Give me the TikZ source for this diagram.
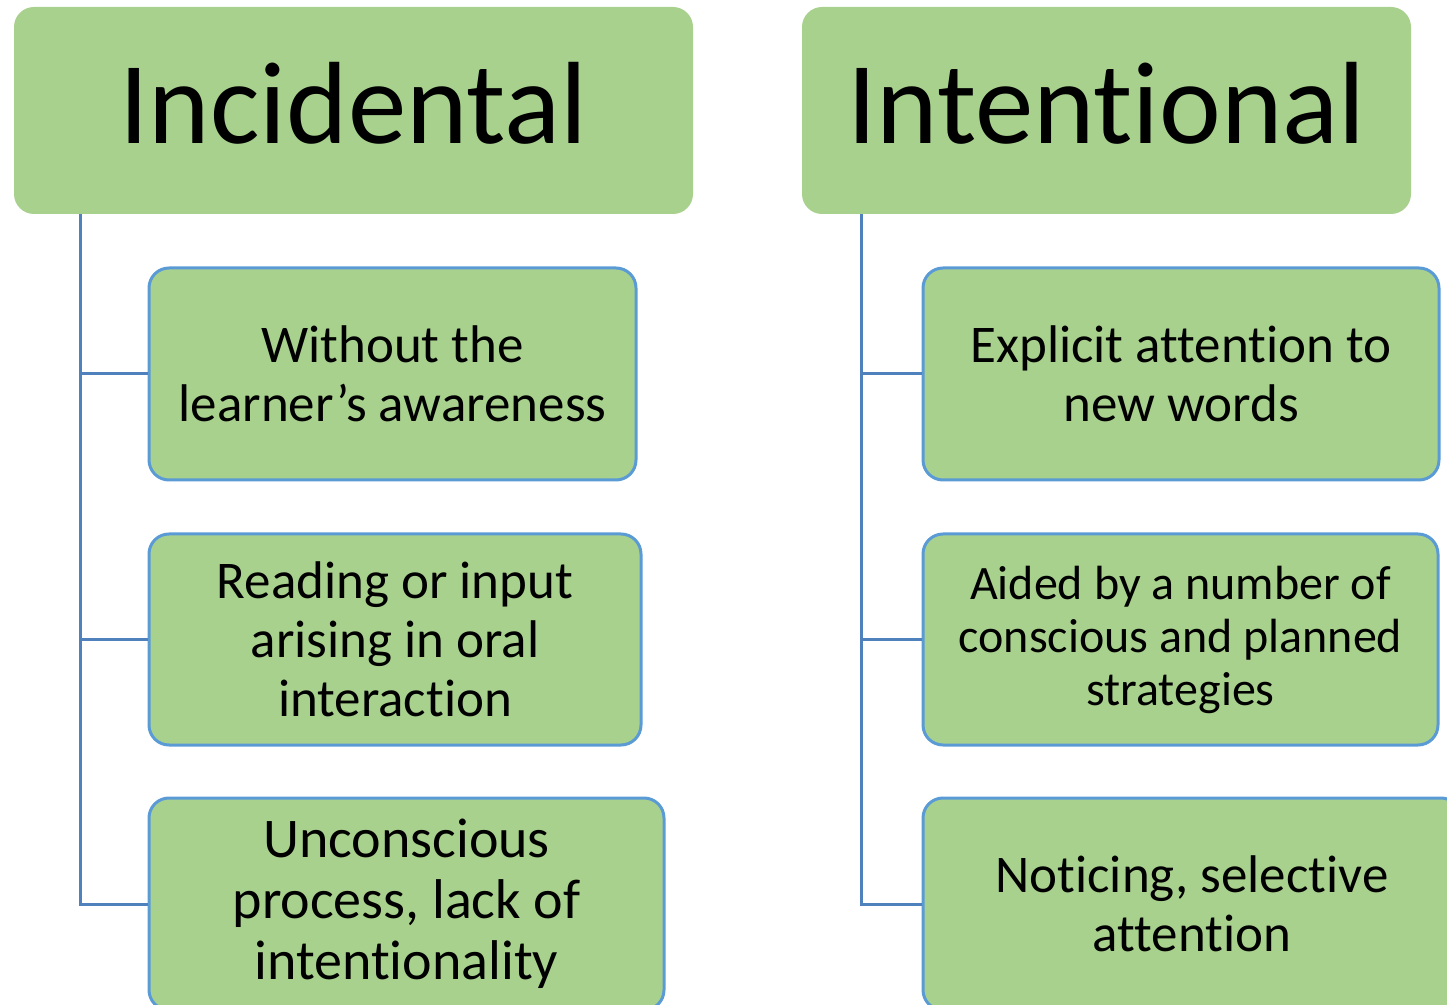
\documentclass[tikz,border=0pt]{standalone}
\usepackage{fontspec}
\setmainfont{Carlito}[Ligatures=NoCommon]
\usetikzlibrary{positioning}
\definecolor{leafgreen}{HTML}{A9D18E}
\definecolor{rimblue}{HTML}{5B9BD5}
\definecolor{linkblue}{HTML}{4F81BD}
\newcommand{\headlift}[1]{\raisebox{3.5pt}[\height][\depth]{#1}}
\tikzset{
  head/.style={fill=leafgreen, rounded corners=10pt, inner sep=0pt, font=\fontsize{58.5}{64}\selectfont},
  kid/.style={draw=rimblue, fill=leafgreen, line width=1.5pt, rounded corners=10pt, align=center, inner sep=0pt, minimum height=106pt, font=\fontsize{26.5}{29.5}\selectfont},
  link/.style={draw=linkblue, line width=1.5pt}
}
\begin{document}
\begin{tikzpicture}[x=0.5pt,y=-0.5pt]
	\useasboundingbox (0,0) rectangle (1447,1005);
	\clip (0,0) rectangle (1447,1005);
	% the two headings
	\node[head, minimum width=339.5pt, minimum height=103.5pt] (incid) at (353.5,110.5) {\headlift{Incidental}};
	\node[head, minimum width=304.5pt, minimum height=103.5pt] (inten) at (1106.5,110.5) {\headlift{Intentional}};
	\coordinate (trunkL) at ([xshift=33.5pt]incid.south west);
	\coordinate (trunkR) at ([xshift=30pt]inten.south west);
	% left column
	\node[kid, minimum width=243.5pt] (aware) at (392.5,374) {Without the\\learner’s awareness};
	\node[kid, minimum width=246pt, minimum height=105.5pt] (oral) at (395,639.5) {Reading or input\\arising in oral\\interaction};
	\node[kid, minimum width=257.5pt, font=\fontsize{28}{30.5}\selectfont] (uncon) at (406.5,904) {Unconscious\\process, lack of\\intentionality};
	% right column
	\node[kid, minimum width=258pt] (explicit) at (1181,374) {Explicit attention to\\new words};
	\node[kid, minimum width=257.5pt, minimum height=105.5pt, font=\fontsize{24}{26.5}\selectfont] (aided) at (1180.5,639.5) {Aided by a number of\\conscious and planned\\strategies};
	\node[kid, minimum width=269pt] (notice) at (1192,904) {Noticing, selective\\attention};
	\path[link]
		(trunkL) |- (aware.west)
		(trunkL) |- (oral.west)
		(trunkL) |- (uncon.west)
		(trunkR) |- (explicit.west)
		(trunkR) |- (aided.west)
		(trunkR) |- (notice.west);
\end{tikzpicture}
\end{document}
